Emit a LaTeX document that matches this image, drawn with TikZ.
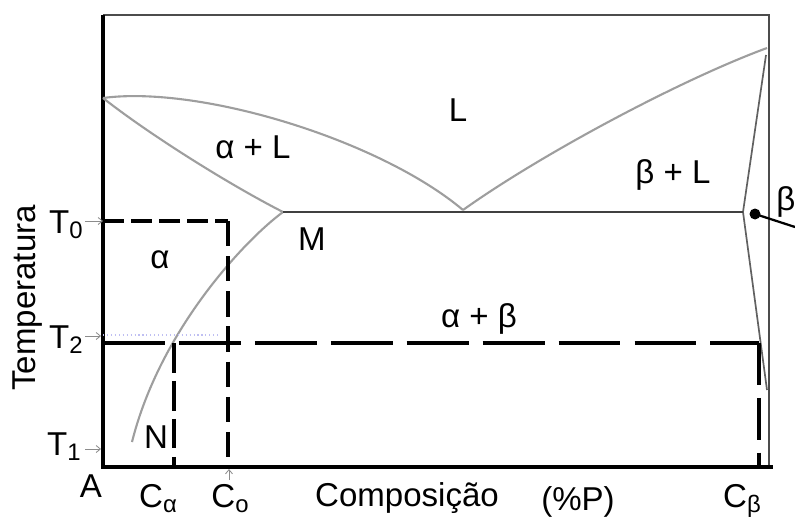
\documentclass[tikz,border=0pt]{standalone}
\usepackage{fontspec}
\setmainfont{Liberation Sans}
\usetikzlibrary{arrows.meta}
\newcommand{\subs}[1]{\raisebox{-0.18em}{\fontsize{17pt}{18pt}\selectfont #1}}

\begin{document}
\begin{tikzpicture}[x=0.025cm, y=-0.025cm]
        \tikzstyle{lbl} = [font=\fontsize{23.5pt}{28pt}\selectfont, inner sep=0pt, anchor=base]
        \tikzstyle{axis} = [line width=3pt, black]
        \tikzstyle{frame} = [line width=1.1pt, black!70]
        \tikzstyle{curve} = [line width=1.5pt, black!38]
        \tikzstyle{solid phase} = [line width=1.2pt, black!62]
        \tikzstyle{guide} = [line width=2.6pt, black]
        \tikzstyle{tick} = [line width=0.6pt, black!45, -{Straight Barb[length=3pt, width=5pt]}]

        \useasboundingbox (0,0) rectangle (795,519);
        \clip (0,0) rectangle (795,519);

        % frame and axes
        \coordinate (tl) at (103,15);
        \coordinate (tr) at (769,15);
        \coordinate (br) at (769,467);
        \coordinate (o) at (103,467);
        \coordinate (xend) at (773,467);

        \draw [frame] (tl) -- (tr) -- (br);
        \draw [axis] (tl) -- (o);
        \draw [axis] (101,467) -- (xend);

        % phase boundaries
        \coordinate (melta) at (103,98);
        \coordinate (meltb) at (767,48);
        \coordinate (eut) at (463,210);
        \coordinate (M) at (283,212);
        \coordinate (Nend) at (132,442);
        \coordinate (bsol) at (743,212);
        \coordinate (bsolv) at (767,390);

        \draw [curve] (melta) .. controls (200,85) and (380,140) .. (eut);
        \draw [curve] (melta) .. controls (150,135) and (230,185) .. (M);
        \draw [curve] (M) .. controls (245,240) and (160,330) .. (Nend);
        \draw [curve] (eut) .. controls (540,155) and (680,80) .. (meltb);
        \draw [solid phase] (766,55) -- (bsol) -- (bsolv);
        \draw [line width=1.6pt, black!75] (M) -- (bsol);

        % T0, T2 and the compositions
        \coordinate (t0) at (103,221);
        \coordinate (c0) at (228,221);
        \coordinate (c0b) at (228,467);
        \coordinate (t2) at (103,343);
        \coordinate (ca) at (174,343);
        \coordinate (cab) at (174,467);
        \coordinate (cb) at (759,343);
        \coordinate (cbb) at (759,467);

        \draw [black!20!blue!25, line width=0.8pt, dotted] (103,335) -- (218,335);
        \draw [guide, dash pattern=on 15pt off 5pt] (t0) -- (c0);
        \draw [guide, dash pattern=on 18pt off 7pt] (c0) -- (c0b);
        \draw [guide, dash pattern=on 44pt off 10pt] (t2) -- (cb);
        \draw [guide, dash pattern=on 21pt off 6pt] (ca) -- (cab);
        \draw [guide, dash pattern=on 30pt off 9pt] (cb) -- (cbb);

        % beta pointer
        \coordinate (dot) at (755,214);
        \coordinate (pend) at (795,227);
        \fill (dot) circle (5.5);
        \draw [line width=1.6pt] (dot) -- (pend);

        % small arrows
        \draw [tick] (85,221) -- (t0);
        \draw [tick] (85,336) -- (101,336);
        \draw [tick] (85,449) -- (101,449);
        \draw [tick] (229,480) -- (229,469);

        % labels
        \node (L) [lbl] at (458,121) {L};
        \node (aL) [lbl] at (253,158) {α + L};
        \node (bL) [lbl] at (673,183) {β + L};
        \node (lblM) [lbl] at (312,250) {M};
        \node (a) [lbl] at (160,268) {α};
        \node (ab) [lbl] at (479,327) {α + β};
        \node (lblN) [lbl] at (156,448) {N};
        \node (b) [lbl, anchor=base west] at (776,210) {β};

        \node (T0) [lbl, anchor=base east] at (83,233) {T\subs{0}};
        \node (T2) [lbl, anchor=base east] at (83,348) {T\subs{2}};
        \node (T1) [lbl, anchor=base east] at (81,455) {T\subs{1}};
        \node (temp) [lbl, rotate=90] at (35,298) {Temperatura};

        \node (A) [lbl] at (91,497) {A};
        \node (Ca) [lbl] at (158,507) {C\subs{α}};
        \node (Co) [lbl] at (230,507) {C\subs{o}};
        \node (comp) [lbl] at (407,506) {Composição};
        \node (pp) [lbl] at (578,510) {(\%P)};
        \node (Cb) [lbl] at (742,507) {C\subs{β}};
\end{tikzpicture}
\end{document}
